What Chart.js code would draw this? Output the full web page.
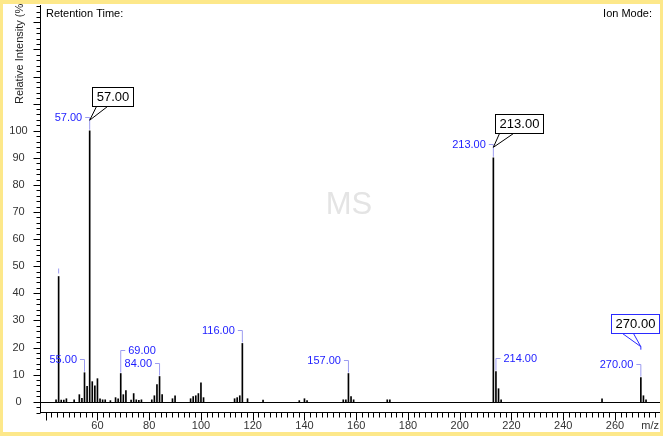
<!DOCTYPE html>
<html>
<head>
<meta charset="utf-8">
<script src="https://cdn.jsdelivr.net/npm/chart.js@4/dist/chart.umd.min.js"></script>
<style>
  html, body { margin: 0; padding: 0; background: #fff; }
  canvas { display: block; }
</style>
</head>
<body>
<canvas id="spectre" width="663" height="436"></canvas>
<script>
// Données du spectre de masse (m/z, intensité relative %)
const mzValues = [44, 45, 46, 47, 48, 51, 53, 54, 55, 56, 57, 58, 59, 60, 61, 62, 63, 65, 67, 68,
  69, 70, 71, 73, 74, 75, 76, 77, 81, 82, 83, 84, 85, 89, 90, 96, 97, 98, 99, 100, 101,
  113, 114, 115, 116, 118, 124, 138, 140, 141, 155, 156, 157, 158, 159, 172, 173,
  213, 214, 215, 216, 255, 270, 271, 272];
const intensities = [0.7, 46.2, 0.6, 0.6, 1.1, 0.7, 2.6, 1.2, 10.7, 5.7, 100, 7.4, 5.9, 8.5, 1.1, 0.7, 0.7, 0.4, 1.5, 1.1,
  10.4, 2.6, 4.1, 0.6, 3.0, 0.7, 0.5, 0.7, 0.7, 2.2, 6.3, 9.3, 2.6, 1.1, 2.2, 1.1, 1.9, 2.2, 3.0, 7.0, 1.5,
  1.1, 1.5, 2.2, 21.5, 1.1, 0.6, 0.4, 1.1, 0.4, 0.7, 0.7, 10.4, 1.9, 0.7, 0.7, 0.7,
  90, 11.1, 4.8, 0.7, 1.1, 8.9, 2.2, 0.7];

// pics annotés
const labeledPeaks = [55, 57, 69, 84, 116, 157, 213, 214, 270];
const calloutPeaks = [57, 213, 270];
const markedPeaks = [45];

// graduations
const yTickLabels = [0, 10, 20, 30, 40, 50, 60, 70, 80, 90, 100];
const xTickLabels = [60, 80, 100, 120, 140, 160, 180, 200, 220, 240, 260];

// mise en page des étiquettes (pas des données)
const labelLayout = { 69: { side: 'right', lift: 24 }, 214: { side: 'right' } };
const calloutLayout = {
  57: { dx: 2, bottom: -11, tip: 3, a: 4, b: 15, color: '#000000' },
  213: { dx: 2, bottom: -11, tip: 3, a: 4, b: 18, color: '#000000' },
  270: { dx: -30, bottom: -31, tip: -17.4, a: 11, b: 22, color: '#2a2aff' }
};

const FONT = '"Liberation Sans", Arial, sans-serif';
const YELLOW = '#fde88a';

function valueOf(m) {
  return intensities[mzValues.indexOf(m)];
}

var cadre = {
  id: 'cadre',
  beforeDraw: function(chart) {
    var ctx = chart.ctx;
    ctx.save();
    ctx.fillStyle = YELLOW;
    ctx.fillRect(0, 0, 663, 436);
    ctx.fillStyle = '#ffffff';
    ctx.fillRect(3, 4, 657, 428);

    // filigrane
    ctx.fillStyle = '#e4e4e4';
    ctx.font = '31px ' + FONT;
    ctx.textAlign = 'center';
    ctx.textBaseline = 'middle';
    ctx.fillText('MS', 349, 205);

    ctx.fillStyle = '#000';
    ctx.font = '11px ' + FONT;
    ctx.textAlign = 'left';
    ctx.fillText('Retention Time:', 46, 14);
    ctx.textAlign = 'right';
    ctx.fillText('Ion Mode:', 652, 14);

    // titre axe Y
    ctx.save();
    ctx.translate(20, 104);
    ctx.rotate(-Math.PI / 2);
    ctx.textAlign = 'left';
    ctx.fillStyle = '#222';
    ctx.fillText('Relative Intensity (%)', 0, 0);
    ctx.restore();
    ctx.restore();
  },
  afterDatasetsDraw: function(chart) {
    var ctx = chart.ctx;
    var xs = chart.scales.x, ys = chart.scales.y;
    var area = chart.chartArea;
    ctx.save();
    ctx.strokeStyle = '#000';
    ctx.lineWidth = 1;

    // ligne du zéro
    var y0 = Math.round(ys.getPixelForValue(0)) + 0.5;
    ctx.beginPath();
    ctx.moveTo(area.left, y0);
    ctx.lineTo(area.right, y0);
    ctx.stroke();

    // axe Y
    var ax = area.left + 0.5;
    ctx.beginPath();
    ctx.moveTo(ax, area.top);
    ctx.lineTo(ax, area.bottom);
    for (var v = -4; v <= ys.max; v += 2) {
      var ty = Math.round(ys.getPixelForValue(v)) + 0.5;
      var len = (v % 10 === 0) ? 7 : 4;
      ctx.moveTo(ax - len, ty);
      ctx.lineTo(ax, ty);
    }
    ctx.stroke();

    ctx.fillStyle = '#333';
    ctx.font = '11px ' + FONT;
    ctx.textAlign = 'center';
    ctx.textBaseline = 'middle';
    yTickLabels.forEach(function(t) {
      ctx.fillText(String(t), 18.5, ys.getPixelForValue(t));
    });

    // axe X
    var by = area.bottom - 0.5;
    ctx.beginPath();
    ctx.moveTo(area.left, by);
    ctx.lineTo(area.right, by);
    for (var k = 0; 40 + k * 20 / 9 <= xs.max; k++) {
      var tx = Math.round(xs.getPixelForValue(40 + k * 20 / 9)) + 0.5;
      var l2 = (k % 9 === 0) ? 8 : 5;
      ctx.moveTo(tx, by);
      ctx.lineTo(tx, by + l2);
    }
    ctx.stroke();

    xTickLabels.forEach(function(t) {
      ctx.fillText(String(t), xs.getPixelForValue(t), 426);
    });
    ctx.textAlign = 'right';
    ctx.fillText('m/z', 659, 426);

    // étiquettes des pics
    ctx.font = '11px ' + FONT;
    labeledPeaks.forEach(function(m) {
      var lay = labelLayout[m] || {};
      var side = lay.side || 'left';
      var lift = lay.lift || 13.5;
      var xb = xs.getPixelForValue(m);
      var top = ys.getPixelForValue(valueOf(m));
      var ly = Math.round(top - lift) + 0.5;
      ctx.strokeStyle = '#9c9cf0';
      ctx.beginPath();
      if (side === 'left') {
        ctx.moveTo(xb - 4.5, ly);
        ctx.lineTo(xb, ly);
        ctx.lineTo(xb, top - 1);
      } else {
        ctx.moveTo(xb, top - 1);
        ctx.lineTo(xb, ly);
        ctx.lineTo(xb + 4.5, ly);
      }
      ctx.stroke();
      ctx.fillStyle = '#1c1cff';
      ctx.textAlign = side === 'left' ? 'right' : 'left';
      ctx.fillText(m.toFixed(2), side === 'left' ? xb - 7.5 : xb + 7.5, ly);
    });

    markedPeaks.forEach(function(m) {
      var xb = xs.getPixelForValue(m);
      var top = ys.getPixelForValue(valueOf(m));
      ctx.strokeStyle = '#9c9cf0';
      ctx.beginPath();
      ctx.moveTo(xb, top - 8);
      ctx.lineTo(xb, top - 3);
      ctx.stroke();
    });

    // bulles
    ctx.font = '13px ' + FONT;
    calloutPeaks.forEach(function(m) {
      var c = calloutLayout[m];
      var xb = xs.getPixelForValue(m);
      var top = ys.getPixelForValue(valueOf(m));
      var ly = top - 13.5;
      var txt = m.toFixed(2);
      var w = Math.round(ctx.measureText(txt).width + 8);
      var h = 19;
      var left = Math.round(xb + c.dx) + 0.5;
      var bottom = Math.round(ly + c.bottom) + 0.5;
      var tipY = ly + c.tip;
      ctx.fillStyle = '#fff';
      ctx.fillRect(left, bottom - h, w, h);
      ctx.strokeStyle = c.color;
      ctx.strokeRect(left, bottom - h, w, h);
      ctx.beginPath();
      ctx.moveTo(left + c.a, bottom);
      ctx.lineTo(xb, tipY);
      ctx.lineTo(left + c.b, bottom);
      if (m === 270) {
        ctx.moveTo(xb, tipY);
        ctx.lineTo(xb, tipY + 3);
      }
      ctx.stroke();
      ctx.fillStyle = '#000';
      ctx.textAlign = 'center';
      ctx.fillText(txt, left + w / 2, bottom - h / 2 + 0.5);
    });
    ctx.restore();
  },
  afterDraw: function(chart) {
    var ctx = chart.ctx;
    ctx.save();
    ctx.fillStyle = YELLOW;
    ctx.fillRect(0, 0, 663, 4);
    ctx.fillRect(0, 0, 3, 436);
    ctx.fillRect(660, 0, 3, 436);
    ctx.fillRect(0, 432, 663, 4);
    ctx.restore();
  }
};

var points = mzValues.map(function(m, i) {
  return { x: m, y: intensities[i] };
});

var ctx = document.getElementById('spectre').getContext('2d');
var spectre = new Chart(ctx, {
  type: 'bar',
  data: {
    datasets: [{
      data: points,
      backgroundColor: '#000000',
      borderWidth: 0,
      barThickness: 1
    }]
  },
  options: {
    responsive: false,
    animation: false,
    layout: { padding: { left: 40, right: 3, top: 5, bottom: 23 } },
    plugins: { legend: { display: false }, tooltip: { enabled: false } },
    scales: {
      x: { type: 'linear', min: 37.8, max: 277.4, offset: false, grid: { offset: false }, display: false },
      y: { type: 'linear', min: -4.17, max: 146.4, display: false }
    }
  },
  plugins: [cadre]
});
</script>
</body>
</html>
